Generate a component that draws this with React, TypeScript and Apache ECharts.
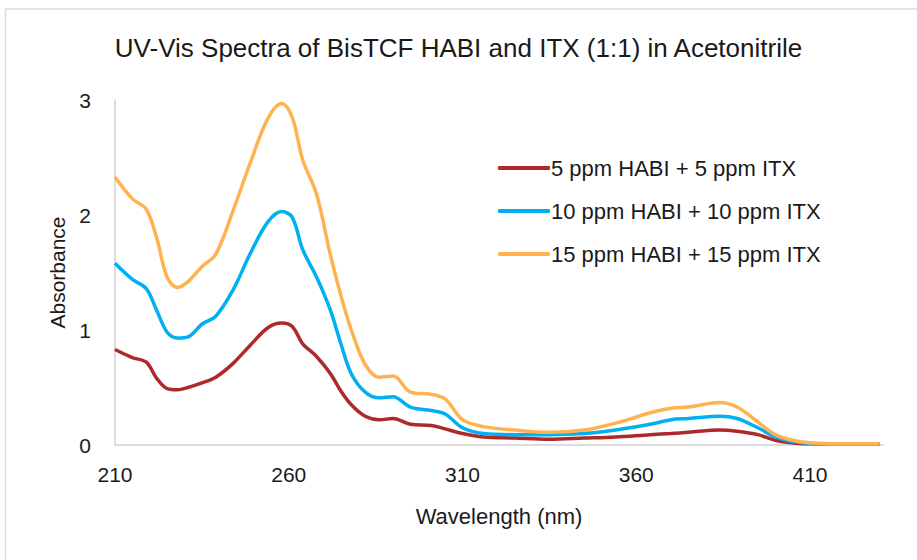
import React, { useEffect, useRef } from "react";
import * as echarts from "echarts";

const wavelengths = [210, 215, 219, 222, 225, 228, 231, 235, 239, 244, 249, 254, 258, 261, 264, 268, 272, 275, 278, 282, 286, 290, 295, 301, 305, 310, 316, 325, 335, 345, 354, 364, 370, 375, 384, 389, 395, 400, 406, 412, 420, 430];

const ppm5 = [0.83, 0.76, 0.72, 0.58, 0.49, 0.48, 0.5, 0.54, 0.59, 0.71, 0.87, 1.02, 1.06, 1.03, 0.88, 0.77, 0.62, 0.47, 0.35, 0.25, 0.22, 0.23, 0.18, 0.17, 0.14, 0.1, 0.07, 0.06, 0.05, 0.06, 0.07, 0.09, 0.1, 0.11, 0.13, 0.12, 0.09, 0.04, 0.015, 0.01, 0.01, 0.01];

const ppm10 = [1.58, 1.44, 1.36, 1.17, 0.98, 0.93, 0.94, 1.05, 1.12, 1.35, 1.67, 1.94, 2.03, 1.98, 1.7, 1.46, 1.17, 0.88, 0.62, 0.46, 0.41, 0.42, 0.33, 0.3, 0.27, 0.15, 0.1, 0.09, 0.09, 0.1, 0.13, 0.18, 0.22, 0.23, 0.25, 0.23, 0.15, 0.07, 0.025, 0.01, 0.01, 0.01];

const ppm15 = [2.33, 2.14, 2.05, 1.8, 1.46, 1.37, 1.42, 1.55, 1.66, 2.04, 2.46, 2.84, 2.97, 2.85, 2.48, 2.18, 1.65, 1.3, 1.0, 0.7, 0.59, 0.6, 0.46, 0.44, 0.4, 0.22, 0.16, 0.13, 0.11, 0.13, 0.19, 0.28, 0.32, 0.33, 0.37, 0.33, 0.2, 0.09, 0.035, 0.015, 0.01, 0.01];

const seriesNames = ["5 ppm HABI + 5 ppm ITX", "10 ppm HABI + 10 ppm ITX", "15 ppm HABI + 15 ppm ITX"];
const colors = ["#AE2A2A", "#00B0F0", "#FFB24F"];

const X_START = 210;
const X_END = 431;
const X_STEP = 50;
const Y_TICKS = [0, 1, 2, 3];

const FONT = "'Liberation Sans', Arial, sans-serif";
const TEXT = "#1a1a1a";

export default function App() {
  const ref = useRef<HTMLDivElement>(null);

  useEffect(() => {
    if (!ref.current) return;
    const chart = echarts.init(ref.current, null, { renderer: "svg" });
    const all = [ppm5, ppm10, ppm15];
    chart.setOption({
      animation: false,
      backgroundColor: "#ffffff",
      textStyle: { fontFamily: FONT },
      title: {
        text: "UV-Vis Spectra of BisTCF HABI and ITX (1:1) in Acetonitrile",
        left: "center",
        top: 30,
        textStyle: { fontFamily: FONT, fontSize: 26, fontWeight: "normal", color: TEXT },
      },
      graphic: [
        {
          type: "rect",
          shape: { x: 5.5, y: 9, width: 1200, height: 1200 },
          style: { fill: "none", stroke: "#d9d9d9", lineWidth: 1.5 },
          silent: true,
        },
      ],
      legend: {
        orient: "vertical",
        left: 493,
        top: 152,
        itemWidth: 52,
        itemHeight: 4,
        itemGap: 21,
        icon: "roundRect",
        data: seriesNames,
        textStyle: { fontFamily: FONT, fontSize: 22, color: TEXT, padding: [0, 0, 0, -4] },
      },
      grid: { left: 115, right: 34, top: 100, bottom: 115, containLabel: false },
      xAxis: {
        type: "value",
        min: 0,
        max: X_END - X_START,
        interval: X_STEP,
        name: "Wavelength (nm)",
        nameLocation: "middle",
        nameGap: 60,
        nameTextStyle: { fontFamily: FONT, fontSize: 22, color: TEXT },
        axisLine: { show: true, lineStyle: { color: "#d0d0d0", width: 1.5 } },
        axisTick: { show: false },
        splitLine: { show: false },
        axisLabel: {
          fontFamily: FONT,
          fontSize: 21,
          color: TEXT,
          margin: 19,
          showMaxLabel: false,
          formatter: (v: number) => (v <= 200 ? String(v + X_START) : ""),
        },
      },
      yAxis: {
        type: "value",
        min: Y_TICKS[0],
        max: Y_TICKS[Y_TICKS.length - 1],
        interval: 1,
        name: "Absorbance",
        nameLocation: "middle",
        nameGap: 46,
        nameTextStyle: { fontFamily: FONT, fontSize: 21, color: TEXT },
        axisLine: { show: true, lineStyle: { color: "#d0d0d0", width: 1.5 } },
        axisTick: { show: false },
        splitLine: { show: false },
        axisLabel: { fontFamily: FONT, fontSize: 21, color: TEXT, margin: 24 },
      },
      series: seriesNames.map((name, i) => ({
        name,
        type: "line",
        smooth: 0.35,
        showSymbol: false,
        symbol: "none",
        color: colors[i],
        lineStyle: { width: 3.5, color: colors[i] },
        data: wavelengths.map((w, j) => [w - X_START, all[i][j]]),
      })),
    });
    return () => chart.dispose();
  }, []);

  return <div ref={ref} style={{ position: "absolute", left: 0, top: 0, width: 917, height: 560 }} />;
}
